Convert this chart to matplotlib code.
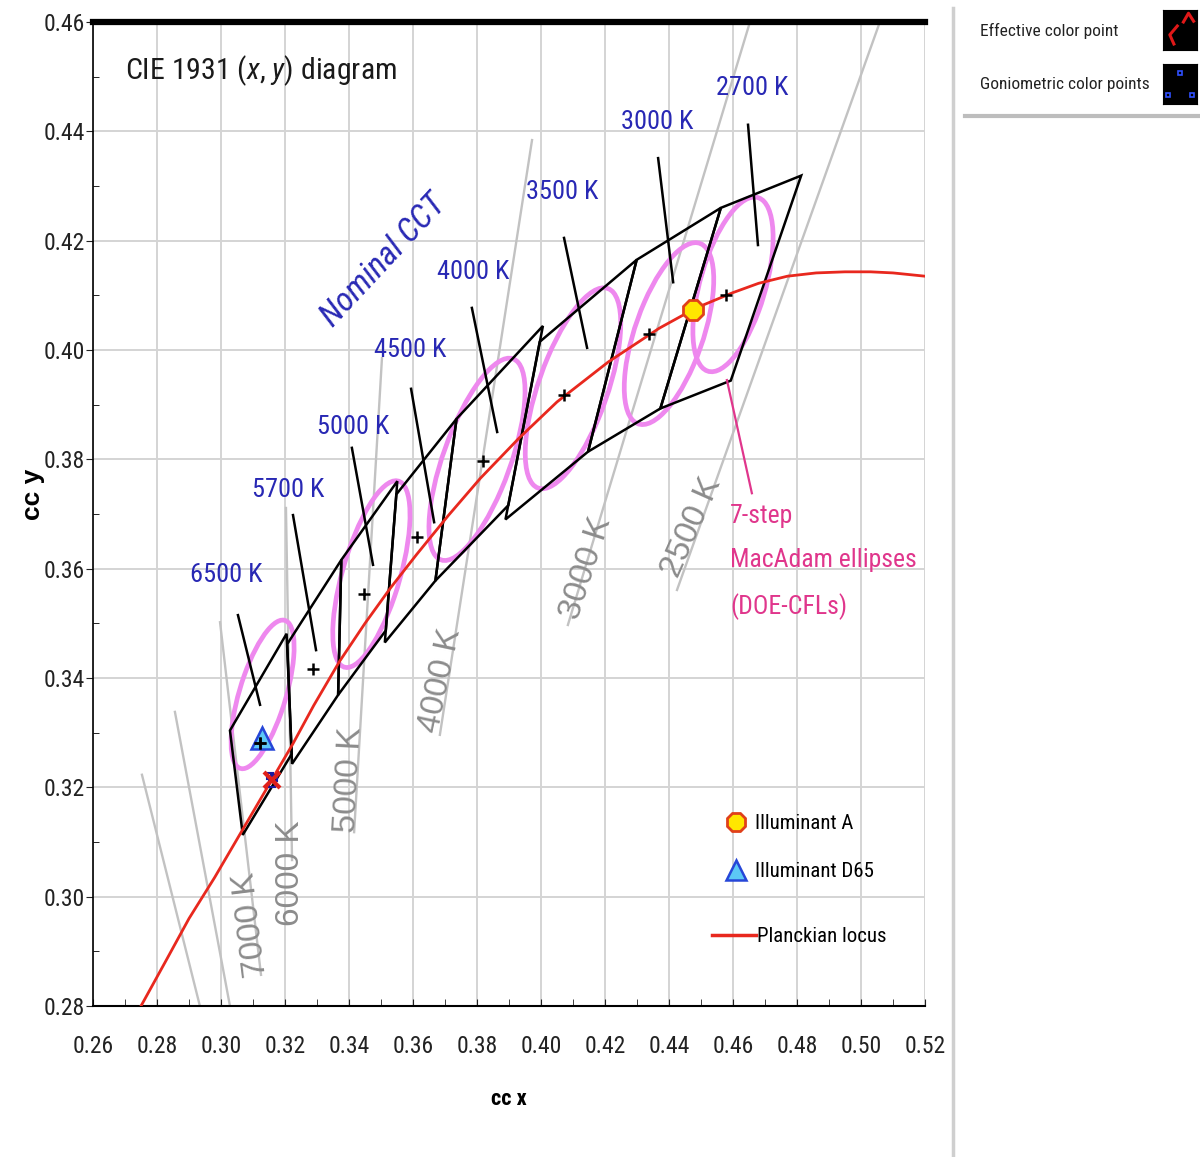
import matplotlib

matplotlib.use("Agg")
import matplotlib.font_manager as fm
import matplotlib.pyplot as plt
import numpy as np
from matplotlib.lines import Line2D
from matplotlib.patches import Ellipse, Polygon
from matplotlib.ticker import FormatStrFormatter, MultipleLocator

# Planckian locus as drawn in the picture
locus_x = [0.275, 0.283, 0.290, 0.298, 0.305, 0.316, 0.3225, 0.329, 0.337, 0.345,
           0.353, 0.361, 0.371, 0.381, 0.393, 0.405, 0.421, 0.437, 0.4485, 0.460,
           0.468, 0.477, 0.486, 0.495, 0.503, 0.510, 0.520]
locus_y = [0.280, 0.2885, 0.296, 0.3035, 0.3105, 0.3215, 0.328, 0.335, 0.343, 0.350,
           0.3565, 0.3625, 0.3697, 0.3765, 0.3838, 0.3905, 0.3978, 0.404, 0.4077, 0.4105,
           0.4122, 0.4135, 0.4141, 0.4143, 0.4143, 0.4141, 0.4135]

# nominal CCT quadrangles (4 corners each) and their centres
cct_names = ["6500 K", "5700 K", "5000 K", "4500 K", "4000 K", "3500 K", "3000 K", "2700 K"]
quad_x = [
    [0.3205, 0.3028, 0.3068, 0.3221],
    [0.3376, 0.3207, 0.3222, 0.3366],
    [0.3551, 0.3376, 0.3366, 0.3515],
    [0.3736, 0.3548, 0.3512, 0.3670],
    [0.4006, 0.3736, 0.3670, 0.3898],
    [0.4299, 0.3996, 0.3889, 0.4147],
    [0.4562, 0.4299, 0.4147, 0.4373],
    [0.4813, 0.4562, 0.4373, 0.4593],
]
quad_y = [
    [0.3481, 0.3304, 0.3113, 0.3261],
    [0.3616, 0.3462, 0.3243, 0.3369],
    [0.3760, 0.3616, 0.3369, 0.3487],
    [0.3874, 0.3736, 0.3465, 0.3578],
    [0.4044, 0.3874, 0.3578, 0.3716],
    [0.4165, 0.4015, 0.3690, 0.3814],
    [0.4260, 0.4165, 0.3814, 0.3893],
    [0.4319, 0.4260, 0.3893, 0.3944],
]
center_x = [0.3123, 0.3287, 0.3447, 0.3611, 0.3818, 0.4073, 0.4338, 0.4578]
center_y = [0.3282, 0.3417, 0.3553, 0.3658, 0.3797, 0.3917, 0.4030, 0.4101]

# black pointer strokes from each CCT label into its quadrangle
pointer_x = [(0.3053, 0.3122), (0.3225, 0.3297), (0.3409, 0.3475), (0.3594, 0.3666),
             (0.3784, 0.3863), (0.4072, 0.4144), (0.4366, 0.4413), (0.4647, 0.4678)]
pointer_y = [(0.3515, 0.3351), (0.3698, 0.3451), (0.3821, 0.3607), (0.3929, 0.3685),
             (0.4077, 0.3850), (0.4205, 0.4004), (0.4351, 0.4124), (0.4412, 0.4192)]

# 7-step MacAdam ellipses (DOE CFLs): centre, semi-axes, tilt
ell_x = [0.313, 0.347, 0.380, 0.410, 0.440, 0.460]
ell_y = [0.337, 0.359, 0.380, 0.393, 0.403, 0.412]
ell_a = [0.0154, 0.0192, 0.0219, 0.0216, 0.0195, 0.0180]
ell_b = [0.0067, 0.0083, 0.0094, 0.0097, 0.0096, 0.0094]
ell_angle = [58.6, 59.6, 53.7, 54.0, 53.2, 57.3]

# isotemperature lines (grey)
iso_names = ["", "", "7000 K", "6000 K", "5000 K", "4000 K", "3000 K", "2500 K"]
iso_x = [(0.2753, 0.2934), (0.2856, 0.3028), (0.2997, 0.3125), (0.3203, 0.3222),
         (0.3503, 0.3416), (0.3972, 0.3684), (0.4653, 0.4084), (0.5059, 0.4425)]
iso_y = [(0.3223, 0.2800), (0.3338, 0.2800), (0.3502, 0.2857), (0.3711, 0.3067),
         (0.3985, 0.3118), (0.4384, 0.3296), (0.4600, 0.3497), (0.4600, 0.3561)]

illum_a = (0.4476, 0.4074)
illum_d65 = (0.3127, 0.3290)
effective_pt = (0.3159, 0.3213)
gonio_x = [0.3152, 0.3158, 0.3166]
gonio_y = [0.3220, 0.3207, 0.3217]

# text placement (layout only)
cct_label_pos = [(0.3016, 0.3588), (0.3209, 0.3744), (0.3413, 0.3859), (0.3591, 0.4000),
                 (0.3788, 0.4143), (0.4066, 0.4289), (0.4363, 0.4417), (0.4659, 0.4479)]
iso_label_pos = [None, None, (0.3093, 0.2948), (0.3218, 0.3043), (0.3400, 0.3213),
                 (0.3688, 0.3396), (0.4140, 0.3601), (0.4472, 0.3676)]
iso_label_rot = [0, 0, 97, 90, 87, 78, 72, 66]

available = {f.name for f in fm.fontManager.ttflist}
NARROW = next((n for n in ("Liberation Sans Narrow", "Arial Narrow", "Roboto Condensed")
               if n in available), "Liberation Sans")
S = 1.0 if NARROW != "Liberation Sans" else 0.84
plt.rcParams["font.family"] = [NARROW, "DejaVu Sans"]
plt.rcParams["mathtext.fontset"] = "custom"
plt.rcParams["mathtext.rm"] = NARROW
plt.rcParams["mathtext.it"] = NARROW + ":italic"

BLUE = "#2828b4"
GREY = "#8c8c8c"
PINK = "#e0368c"
RED = "#e8281e"
VIOLET = "#ee88ee"

fig = plt.figure(figsize=(12, 11.57), dpi=100)
ax = fig.add_axes([93 / 1200, 1 - 1006 / 1157, 832 / 1200, 984 / 1157])
ax.set_xlim(0.26, 0.52)
ax.set_ylim(0.28, 0.46)

ax.xaxis.set_major_locator(MultipleLocator(0.02))
ax.xaxis.set_minor_locator(MultipleLocator(0.01))
ax.yaxis.set_major_locator(MultipleLocator(0.02))
ax.yaxis.set_minor_locator(MultipleLocator(0.01))
ax.xaxis.set_major_formatter(FormatStrFormatter("%.2f"))
ax.yaxis.set_major_formatter(FormatStrFormatter("%.2f"))
ax.tick_params(axis="x", which="both", direction="in", length=5, pad=21,
               labelsize=17 * S, colors="#222222")
ax.tick_params(axis="y", which="major", direction="out", length=5, pad=1,
               labelsize=17 * S, colors="#222222")
ax.tick_params(axis="y", which="minor", direction="in", length=4)
ax.grid(True, which="major", color="#d4d4d4", lw=1.4)
ax.set_axisbelow(True)
ax.spines["right"].set_visible(False)
ax.spines["top"].set_linewidth(4.5)
ax.spines["left"].set_linewidth(1.2)
ax.spines["bottom"].set_linewidth(1.5)

# isotherms and their labels
for name, xs, ys, pos, rot in zip(iso_names, iso_x, iso_y, iso_label_pos, iso_label_rot):
    ax.plot(xs, ys, color="#c2c2c2", lw=1.7, zorder=1.5)
    if name:
        ax.text(pos[0], pos[1], name, rotation=rot, color=GREY, fontsize=24 * S,
                family=["Liberation Sans", "DejaVu Sans"], ha="center", va="center",
                rotation_mode="anchor", zorder=1.6)

for x0, y0, a, b, ang in zip(ell_x, ell_y, ell_a, ell_b, ell_angle):
    ax.add_patch(Ellipse((x0, y0), 2 * a, 2 * b, angle=ang, fill=False,
                         ec=VIOLET, lw=3.4, zorder=2))

for qx, qy in zip(quad_x, quad_y):
    ax.add_patch(Polygon(np.column_stack([qx, qy]), closed=True, fill=False,
                         ec="black", lw=1.8, zorder=3))

for name, px, py, pos in zip(cct_names, pointer_x, pointer_y, cct_label_pos):
    ax.plot(px, py, color="black", lw=1.8, zorder=3)
    ax.text(pos[0], pos[1], name, color=BLUE, fontsize=19 * S, ha="center",
            va="center", zorder=6)

ax.plot(locus_x, locus_y, color=RED, lw=2.0, zorder=4)
ax.plot(center_x, center_y, ls="none", marker="+", ms=9, mew=1.8, color="black", zorder=7)

ax.plot(*illum_a, marker="8", ms=15, mfc="#ffe600", mec="#e0401a", mew=2, zorder=6)
ax.plot(*illum_d65, marker="^", ms=16, mfc="#5cc8f5", mec="#2646d8", mew=1.8, zorder=6)
ax.plot(gonio_x, gonio_y, ls="none", marker="s", ms=4, mfc="none", mec="#1a1aa0",
        mew=1.5, zorder=6)
ax.plot(*effective_pt, marker="x", ms=11, mew=3, color="#e0201a", zorder=6)
ax.plot(center_x[0], center_y[0], marker="+", ms=9, mew=1.8, color="black", zorder=8)

# annotations
ax.text(0.0385, 0.951, r"CIE 1931 ($x$, $y$) diagram", transform=ax.transAxes,
        fontsize=21.5 * S, color="#1a1a1a", ha="left", va="center")
ax.text(0.3508, 0.4163, "Nominal CCT", rotation=47, color=BLUE, fontsize=24 * S,
        style="italic", ha="center", va="center", rotation_mode="anchor")
ax.plot([0.4581, 0.4659], [0.3945, 0.3738], color=PINK, lw=1.6, zorder=5)
ax.text(0.4591, 0.3612, "7-step\nMacAdam ellipses\n(DOE-CFLs)", color=PINK,
        fontsize=18.5 * S, ha="left", va="center", linespacing=2.05)

ax.set_xlabel("cc x", fontsize=16 * S, fontweight="bold")
ax.xaxis.set_label_coords(0.5, -0.083)
ax.set_ylabel("cc y", fontsize=19, fontweight="bold",
              family=["Liberation Sans", "DejaVu Sans"])
ax.yaxis.set_label_coords(-0.058, 0.52)

leg1 = ax.legend(
    handles=[
        Line2D([], [], ls="none", marker="8", ms=14, mfc="#ffe600", mec="#e0401a", mew=2,
               label="Illuminant A"),
        Line2D([], [], ls="none", marker="^", ms=15, mfc="#5cc8f5", mec="#2646d8", mew=1.8,
               label="Illuminant D65"),
    ],
    loc="upper left", bbox_to_anchor=(0.756, 0.195), frameon=False, fontsize=15 * S,
    handlelength=1.3, handletextpad=0.3, labelspacing=1.38, borderpad=0, borderaxespad=0,
)
ax.add_artist(leg1)
ax.legend(
    handles=[Line2D([], [], color=RED, lw=2.5, label="Planckian locus")],
    loc="upper left", bbox_to_anchor=(0.744, 0.080), frameon=False, fontsize=15 * S,
    handlelength=2.1, handletextpad=0.05, borderpad=0, borderaxespad=0,
)

# right-hand panel: divider, legend of point types
fig.add_artist(Line2D([953 / 1200, 953 / 1200], [0, 1 - 8 / 1157],
                      transform=fig.transFigure, color="#cfcfcf", lw=2.5))
fig.add_artist(Line2D([965 / 1200, 1.0], [1 - 116 / 1157, 1 - 116 / 1157],
                      transform=fig.transFigure, color="#bdbdbd", lw=3))
fig.text(980 / 1200, 1 - 31 / 1157, "Effective color point", fontsize=12.5 * S,
         color="#222222", va="center", ha="left")
fig.text(980 / 1200, 1 - 85 / 1157, "Goniometric color points", fontsize=12.5 * S,
         color="#222222", va="center", ha="left")

icon1 = fig.add_axes([1163 / 1200, 1 - 50 / 1157, 34 / 1200, 40 / 1157])
icon2 = fig.add_axes([1163 / 1200, 1 - 104 / 1157, 34 / 1200, 40 / 1157])
for icon in (icon1, icon2):
    icon.set_facecolor("black")
    icon.set_xlim(0, 1)
    icon.set_ylim(0, 1)
    icon.set_xticks([])
    icon.set_yticks([])
icon1.plot([0.42, 0.2, 0.32], [0.6, 0.38, 0.15], color="#e01818", lw=2.2)
icon1.plot([0.6, 0.75, 0.9], [0.7, 0.92, 0.72], color="#e01818", lw=2.2)
icon2.plot([0.5, 0.15, 0.85], [0.78, 0.22, 0.22], ls="none", marker="s", ms=3.5,
           mfc="none", mec="#3050ff", mew=1.2)

fig.savefig("out.png", dpi=100)
